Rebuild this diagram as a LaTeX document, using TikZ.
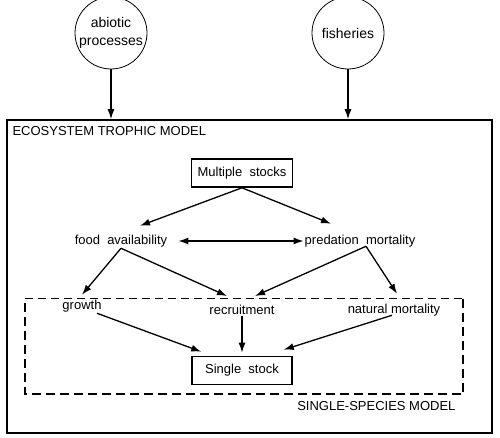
\documentclass[tikz,border=0pt]{standalone}
\usepackage{fontspec}
\setmainfont{Liberation Sans}
\usetikzlibrary{arrows.meta}

\begin{document}
\begin{tikzpicture}[x=1pt,y=-1pt,>={Latex[length=10pt,width=7pt]},
  font=\fontsize{13}{15}\selectfont,
  src/.style={draw,circle,line width=0.8pt,minimum size=72pt,inner sep=0pt,align=center,font=\fontsize{14}{18}\selectfont},
  stockbox/.style={draw,line width=1.6pt,minimum width=101pt,minimum height=28pt},
  lbl/.style={inner sep=1pt},
  link/.style={->,line width=1.3pt}]
  \useasboundingbox (0,0) rectangle (500,438);
  % outer and single-species frames
  \node[draw,line width=1.6pt,minimum width=485pt,minimum height=313pt] (eco) at (249.5,276.5) {};
  \node[anchor=west] (ecotitle) at (9,131) {ECOSYSTEM TROPHIC MODEL};
  \node[minimum width=438pt,minimum height=95pt] (ssm) at (244,346.5) {};
  \draw[line width=0.8pt,dash pattern=on 8pt off 5pt] (ssm.north west) -- (ssm.north east);
  \draw[line width=2pt,dash pattern=on 9pt off 5pt] (ssm.north east) -- (ssm.south east) -- (ssm.south west) -- (ssm.north west);
  \node[anchor=east] (ssmtitle) at (459,406) {SINGLE-SPECIES MODEL};
  % drivers
  \node[src] (abiotic) at (111,33) {abiotic\\processes};
  \node[src] (fisheries) at (348,33) {fisheries};
  \draw[link] (abiotic.south) -- (abiotic.south |- eco.north);
  \draw[link] (fisheries.south) -- (fisheries.south |- eco.north);
  % stocks and processes
  \node[stockbox] (multi) at (242,173) {Multiple\ \ stocks};
  \node[lbl] (food) at (121,241) {food\ \ availability};
  \node[lbl] (pred) at (360,241) {predation\ \ mortality};
  \node[lbl] (growth) at (82,306) {growth};
  \node[lbl] (recruit) at (242,310) {recruitment};
  \node[lbl] (natmort) at (394,310) {natural mortality};
  \node[stockbox,minimum width=100pt] (single) at (242,370.5) {Single\ \ stock};
  \draw[link] (multi.south) -- ([shift={(19,-8)}]food.north);
  \draw[link] (multi.south) -- ([shift={(-29,-10)}]pred.north);
  \draw[<->,line width=1.3pt] ([xshift=10pt]food.east) -- (pred.west);
  \draw[link] (food.south) -- ([shift={(0,-4)}]growth.north);
  \draw[link] (food.south) -- ([shift={(-15,-8)}]recruit.north);
  \draw[link] ([shift={(6,-2)}]pred.south) -- ([shift={(13,-8)}]recruit.north);
  \draw[link] ([shift={(6,-2)}]pred.south) -- ([shift={(3,-9)}]natmort.north);
  \draw[link] ([xshift=15pt]growth.south) -- ([shift={(10,-4)}]single.north west);
  \draw[link] (recruit.south) -- ([yshift=3pt]single.north);
  \draw[link] ([shift={(-2,-2)}]natmort.south) -- ([shift={(-9,-6)}]single.north east);
\end{tikzpicture}
\end{document}
